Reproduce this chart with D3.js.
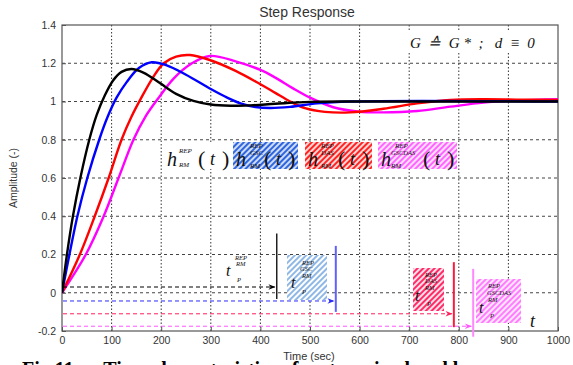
<!DOCTYPE html>
<html>
<head>
<meta charset="utf-8">
<script src="https://cdn.jsdelivr.net/npm/d3@7"></script>
<style>
  body { margin: 0; background: #fff; }
  svg { display: block; font-family: Arial, "Liberation Sans", sans-serif; }
  .math { font-family: "Liberation Serif", "Times New Roman", serif; font-style: italic; fill: #111; }
</style>
</head>
<body>
<svg class="chart"></svg>
<script>
// step responses, [time (sec), amplitude]
const respRM = [[0,0],[10,0.2],[22,0.4],[37,0.6],[55,0.8],[70,0.93],[86,1.03],[103,1.11],[120,1.155],[140,1.17],[165,1.15],
  [198,1.095],[230,1.04],[265,1.003],[300,0.984],[340,0.978],[380,0.98],[430,0.988],[500,0.998],[600,1.0],[1000,1.0]];
const respGSC = [[0,0],[15,0.2],[31,0.4],[51,0.6],[75,0.8],[92,0.92],[110,1.02],[130,1.1],[155,1.175],[181,1.205],[210,1.19],
  [250,1.14],[300,1.065],[333,1.02],[360,0.99],[390,0.971],[420,0.966],[460,0.972],[514,0.99],[581,1.0],[1000,1.0]];
const respDAS = [[0,0],[36,0.2],[66,0.4],[94,0.6],[120,0.8],[140,0.92],[160,1.02],[182,1.12],[205,1.2],[230,1.235],[258,1.243],
  [298,1.217],[350,1.16],[400,1.09],[430,1.045],[460,1.0],[490,0.965],[530,0.946],[581,0.943],[648,0.962],[716,0.99],
  [783,1.008],[850,1.012],[917,1.01],[1000,1.008]];
const respGSCDAS = [[0,0],[48,0.2],[84,0.4],[114,0.6],[144,0.8],[168,0.92],[195,1.02],[225,1.12],[262,1.2],[298,1.238],[350,1.21],
  [400,1.165],[430,1.125],[465,1.07],[500,1.02],[547,0.97],[595,0.948],[648,0.943],[716,0.95],[783,0.973],[850,0.994],
  [917,1.005],[1000,1.012]];

// tick labels
const xTicks = [0, 100, 200, 300, 400, 500, 600, 700, 800, 900, 1000];
const yTicks = [-0.2, 0, 0.2, 0.4, 0.6, 0.8, 1, 1.2, 1.4];

// t_p markers: time, arrow level, marker top and bottom (amplitude units)
const tpTimes = [431, 550, 788, 827];
const tpLevels = [0.03, -0.043, -0.11, -0.175];
const tpTops = [0.31, 0.245, 0.16, 0.125];
const tpBottoms = [-0.033, -0.1, -0.18, -0.23];

const   width = 573,
        height = 365;

// plot area
const pLeft = 62, pRight = 558, pTop = 25, pBottom = 331;

const x = d3.scaleLinear().domain([0, 1000]).range([pLeft, pRight]);
const y = d3.scaleLinear().domain([-0.2, 1.4]).range([pBottom, pTop]);

const chart = d3.select(".chart")
  .attr("width", width)
  .attr("height", height);

// hatch patterns
const defs = chart.append("defs");
function hatch(id, stripe, bg) {
  const p = defs.append("pattern")
    .attr("id", id)
    .attr("width", 4).attr("height", 4)
    .attr("patternUnits", "userSpaceOnUse")
    .attr("patternTransform", "rotate(45)");
  p.append("rect").attr("width", 4).attr("height", 4).attr("fill", bg);
  p.append("rect").attr("width", 2).attr("height", 4).attr("fill", stripe);
}
hatch("hBlue", "#2f66dd", "#cfdcf7");
hatch("hRed", "#ff2424", "#ffd6d6");
hatch("hMag", "#ff66ff", "#ffe0ff");
hatch("hBlueL", "#8fb8e6", "#ffffff");
hatch("hRedL", "#ff2a66", "#ffe0ea");
hatch("hMagL", "#ff7cff", "#ffe6ff");

chart.append("clipPath").attr("id", "plot")
  .append("rect")
  .attr("x", pLeft).attr("y", pTop)
  .attr("width", pRight - pLeft).attr("height", pBottom - pTop);

// grid, vertical dotted and horizontal dashed
chart.append("g").selectAll("line")
  .data(xTicks.slice(1, -1))
  .enter().append("line")
    .attr("x1", d => x(d)).attr("x2", d => x(d))
    .attr("y1", pTop).attr("y2", pBottom)
    .attr("stroke", "#333").attr("stroke-width", 1)
    .attr("stroke-dasharray", "1.5,2");

chart.append("g").selectAll("line")
  .data(yTicks.slice(1, -1))
  .enter().append("line")
    .attr("x1", pLeft).attr("x2", pRight)
    .attr("y1", d => y(d)).attr("y2", d => y(d))
    .attr("stroke", "#444").attr("stroke-width", 1)
    .attr("stroke-dasharray", "3,3");

// axes, ticks inward like matlab
const xAxis = chart.append("g")
  .attr("transform", `translate(0, ${pBottom})`)
  .call(d3.axisBottom(x).tickValues(xTicks).tickSize(-4).tickPadding(6).tickFormat(d => d));
const yAxis = chart.append("g")
  .attr("transform", `translate(${pLeft}, 0)`)
  .call(d3.axisLeft(y).tickValues(yTicks).tickSize(-4).tickPadding(6).tickFormat(d => String(+d.toFixed(1))));

[xAxis, yAxis].forEach(a => {
  a.select(".domain").remove();
  a.selectAll("line").attr("stroke", "#555");
  a.selectAll("text").attr("fill", "#333").style("font-size", "10.5px").style("font-family", "Arial, 'Liberation Sans', sans-serif");
});

// box round the plot
chart.append("rect")
  .attr("x", pLeft).attr("y", pTop)
  .attr("width", pRight - pLeft).attr("height", pBottom - pTop)
  .attr("fill", "none").attr("stroke", "#555").attr("stroke-width", 1.2);

// the four responses
const line = d3.line()
  .x(d => x(d[0]))
  .y(d => y(d[1]))
  .curve(d3.curveCatmullRom.alpha(0.5));

const series = [
  { data: respGSCDAS, color: "#ff00ff" },
  { data: respDAS, color: "#ff0000" },
  { data: respGSC, color: "#0000ff" },
  { data: respRM, color: "#000000" }
];

chart.append("g").attr("clip-path", "url(#plot)")
  .selectAll("path")
  .data(series)
  .enter().append("path")
    .attr("d", d => line(d.data))
    .attr("fill", "none")
    .attr("stroke", d => d.color)
    .attr("stroke-width", 2.4);

// title and axis labels
chart.append("text")
  .attr("x", 307).attr("y", 17)
  .attr("text-anchor", "middle")
  .attr("fill", "#333")
  .style("font-size", "14px")
  .text("Step Response");

chart.append("text")
  .attr("transform", "translate(17, 178) rotate(-90)")
  .attr("text-anchor", "middle")
  .attr("fill", "#333")
  .style("font-size", "10.5px")
  .text("Amplitude (-)");

chart.append("text")
  .attr("x", 309).attr("y", 360)
  .attr("text-anchor", "middle")
  .attr("fill", "#333")
  .style("font-size", "11px")
  .text("Time (sec)");

// G ≙ G* ; d ≡ 0
chart.append("rect")
  .attr("x", 406).attr("y", 31).attr("width", 148).attr("height", 22)
  .attr("fill", "#fff");
chart.append("text")
  .attr("class", "math")
  .attr("x", 410).attr("y", 48)
  .style("font-size", "15px")
  .attr("xml:space", "preserve")
  .text("G  \u2259  G *  ;   d  \u2261  0");

// helpers for math-like labels
function small(xp, yp, str, size) {
  chart.append("text")
    .attr("class", "math")
    .attr("x", xp).attr("y", yp)
    .style("font-size", (size || 7) + "px")
    .text(str);
}
function big(xp, yp, str, size, upright) {
  chart.append("text")
    .attr("class", "math")
    .attr("x", xp).attr("y", yp)
    .style("font-size", size + "px")
    .style("font-style", upright ? "normal" : "italic")
    .text(str);
}

// legend boxes of h(t)
const legend = [
  { x0: 164, w: 68, fill: "#fff", sup: ["REP"], supX: 179 },
  { x0: 233, w: 65, fill: "url(#hBlue)", sup: ["REP", "GSC"], supX: 250 },
  { x0: 305, w: 67, fill: "url(#hRed)", sup: ["REP", "DAS"], supX: 321 },
  { x0: 378, w: 79, fill: "url(#hMag)", sup: ["REP", "GSCDAS"], supX: 391 }
];
legend.forEach((l, i) => {
  chart.append("rect")
    .attr("x", l.x0).attr("y", 142).attr("width", l.w).attr("height", 27)
    .attr("fill", l.fill);
  big(l.x0 + 3, 166, "h", 20);
  if (i === 0) {
    small(l.supX, 153, "REP");
    small(l.supX, 167, "RM");
  } else {
    small(l.supX + (l.sup[1].length > 3 ? 4 : 0), 148, "REP");
    small(l.supX, 155, l.sup[1], l.sup[1].length > 3 ? 6.5 : 7);
    small(l.supX, 168, "RM");
  }
  const px = l.x0 + l.w - 34;
  big(px, 166, "(", 22, true);
  big(px + 12, 165, "t", 18);
  big(px + 24, 166, ")", 22, true);
});

// t_p boxes
chart.append("rect").attr("x", 287).attr("y", 255).attr("width", 40).attr("height", 45).attr("fill", "url(#hBlueL)");
chart.append("rect").attr("x", 413).attr("y", 268).attr("width", 31).attr("height", 43).attr("fill", "url(#hRedL)");
chart.append("rect").attr("x", 476).attr("y", 279).attr("width", 45).attr("height", 44).attr("fill", "url(#hMagL)");
chart.append("rect").attr("x", 522).attr("y", 315).attr("width", 35).attr("height", 15).attr("fill", "#fff");

// arrows towards each t_p
const tpColors = ["#000000", "#2a2aff", "#ff1f5a", "#ff55ff"];
const tpLineColors = ["#000000", "#6060ff", "#ff1a3a", "#ff88ff"];

defs.selectAll("marker")
  .data(tpColors)
  .enter().append("marker")
    .attr("id", (d, i) => "arr" + i)
    .attr("viewBox", "0 0 10 10")
    .attr("refX", 9).attr("refY", 5)
    .attr("markerWidth", 8).attr("markerHeight", 7)
    .attr("markerUnits", "userSpaceOnUse")
    .attr("orient", "auto")
  .append("path")
    .attr("d", "M0,1 L10,5 L0,9 L3,5 Z")
    .attr("fill", d => d);

chart.append("g").selectAll("line")
  .data(tpTimes)
  .enter().append("line")
    .attr("x1", x(0) + 1)
    .attr("x2", d => x(d) - 1)
    .attr("y1", (d, i) => y(tpLevels[i]))
    .attr("y2", (d, i) => y(tpLevels[i]))
    .attr("stroke", (d, i) => tpColors[i])
    .attr("stroke-width", 1)
    .attr("stroke-dasharray", "4,3")
    .attr("marker-end", (d, i) => `url(#arr${i})`);

chart.append("g").selectAll("line")
  .data(tpTimes)
  .enter().append("line")
    .attr("x1", d => x(d) + 1)
    .attr("x2", d => x(d) + 1)
    .attr("y1", (d, i) => y(tpTops[i]))
    .attr("y2", (d, i) => y(tpBottoms[i]))
    .attr("stroke", (d, i) => tpLineColors[i])
    .attr("stroke-width", (d, i) => i === 0 ? 1.3 : 2);

// t_p labels
big(226, 276, "t", 16);
small(235, 260, "REP", 6.5);
small(236, 266, "RM", 6.5);
small(237, 282, "P", 6.5);

big(291, 288, "t", 16);
small(302, 265, "REP", 6.5);
small(300, 271, "GSC", 6.5);
small(302, 278, "RM", 6.5);
small(302, 294, "P", 6.5);

big(415, 301, "t", 16);
small(425, 277, "REP", 6.5);
small(425, 283, "DAS", 6.5);
small(425, 290, "RM", 6.5);
small(427, 306, "P", 6.5);

big(479, 313, "t", 16);
small(488, 288, "REP", 6.5);
small(487, 295, "GSCDAS", 6.5);
small(488, 302, "RM", 6.5);
small(490, 318, "P", 6.5);

big(530, 327, "t", 18);

// caption cut by the bottom edge
chart.append("text")
  .attr("x", 22).attr("y", 376)
  .attr("fill", "#000")
  .style("font-family", "'Liberation Serif', 'Times New Roman', serif")
  .style("font-weight", "bold")
  .style("font-size", "20px")
  .attr("xml:space", "preserve")
  .text("Fig.11. \u2013  Time characteristics of systems in closed loop");
</script>
</body>
</html>
